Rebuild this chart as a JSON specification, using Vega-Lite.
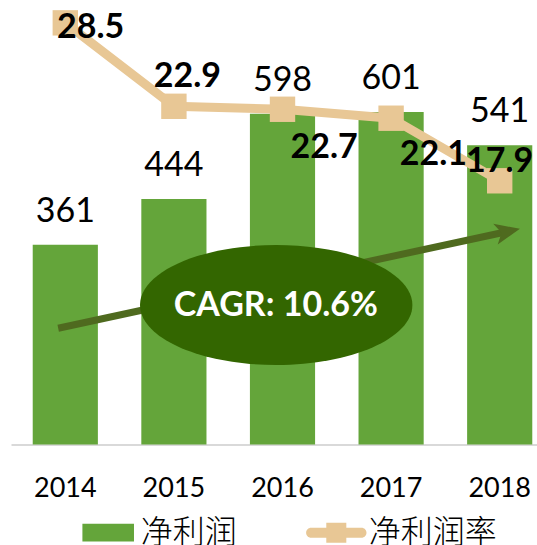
{
  "$schema": "https://vega.github.io/schema/vega-lite/v6.json",
  "width": 526,
  "height": 442.5,
  "autosize": {"type": "none"},
  "padding": {"left": 11, "top": 2, "right": 0, "bottom": 100.5},
  "background": "white",
  "config": {
    "view": {"stroke": null},
    "font": "Lato",
    "axisX": {
      "domainColor": "#D9D9D9",
      "domainWidth": 2,
      "ticks": false,
      "tickSize": 0,
      "grid": false,
      "labelFont": "Lato",
      "labelFontSize": 27,
      "labelColor": "#000000",
      "labelPadding": 51.5,
      "labelBaseline": "alphabetic",
      "labelAngle": 0
    }
  },
  "datasets": {
    "main": [
      {"year": "2014", "profit": 361, "rate": 28.5},
      {"year": "2015", "profit": 444, "rate": 22.9},
      {"year": "2016", "profit": 598, "rate": 22.7},
      {"year": "2017", "profit": 601, "rate": 22.1},
      {"year": "2018", "profit": 541, "rate": 17.9}
    ],
    "arrow": [{"year": "2014", "to": "2018", "start": 210.1, "end": 385.1}],
    "cagr": [{"year": "2016", "value": 252.2, "label": "CAGR: 10.6%"}]
  },
  "data": {"name": "main"},
  "encoding": {
    "x": {
      "field": "year",
      "type": "nominal",
      "title": null,
      "scale": {"range": [0, 543], "paddingInner": 0.4, "paddingOuter": 0.2}
    }
  },
  "layer": [
    {
      "layer": [
        {
          "mark": {"type": "bar"},
          "encoding": {
            "y": {"field": "profit", "type": "quantitative", "scale": {"domain": [0, 800], "nice": false}, "axis": null},
            "color": {
              "datum": "净利润",
              "scale": {"domain": ["净利润", "净利润率"], "range": ["#64A53A", "#E8C795"]},
              "legend": {
                "title": null,
                "orient": "none",
                "legendX": 66.2,
                "legendY": 499.7,
                "direction": "horizontal",
                "padding": 0,
                "symbolSize": 3844,
                "symbolStrokeWidth": 0,
                "symbolOpacity": 1,
                "labelFont": "Noto Sans CJK SC",
                "labelFontSize": 32,
                "labelFontWeight": 300,
                "labelColor": "#000000",
                "labelOffset": 1.5,
                "labelLimit": 400,
                "columnPadding": 68.1,
                "encode": {
                  "symbols": {
                    "update": {
                      "shape": {"signal": "datum.value === '净利润' ? 'M-0.832,-0.285H0.832V0.285H-0.832Z' : 'M-0.813,-0.161H0.813A0.161,0.161 0 0 1 0.813,0.161H-0.813A0.161,0.161 0 0 1 -0.813,-0.161ZM-0.323,-0.323H0.323V0.323H-0.323Z'"},
                      "strokeWidth": {"value": 0}
                    }
                  }
                }
              }
            }
          }
        },
        {
          "mark": {"type": "text", "font": "Lato", "fontSize": 34, "baseline": "alphabetic", "align": "center", "dy": -23, "color": "#000000"},
          "encoding": {
            "y": {"field": "profit", "type": "quantitative"},
            "text": {"field": "profit", "type": "quantitative"}
          }
        },
        {
          "data": {"name": "arrow"},
          "mark": {"type": "rule", "color": "#4F6A1F", "strokeWidth": 7, "xOffset": -7.1, "x2Offset": 8},
          "encoding": {
            "x2": {"field": "to"},
            "y": {"field": "start", "type": "quantitative"},
            "y2": {"field": "end"}
          }
        },
        {
          "data": {"name": "arrow"},
          "mark": {"type": "point", "shape": "M1,0L-1,-0.85L-0.5,0L-1,0.85Z", "filled": true, "opacity": 1, "size": 625, "angle": -12.14, "color": "#4F6A1F", "xOffset": 8},
          "encoding": {
            "x": {"field": "to", "type": "nominal", "title": null},
            "y": {"field": "end", "type": "quantitative"}
          }
        },
        {
          "data": {"name": "cagr"},
          "mark": {"type": "point", "shape": "M-1,0A1,0.4405 0 1 1 1,0A1,0.4405 0 1 1 -1,0Z", "filled": true, "opacity": 1, "size": 74202, "color": "#336600", "xOffset": -6.3},
          "encoding": {
            "y": {"field": "value", "type": "quantitative"}
          }
        },
        {
          "data": {"name": "cagr"},
          "mark": {"type": "text", "font": "Lato", "fontWeight": "bold", "fontSize": 34, "baseline": "alphabetic", "align": "center", "dx": -6.7, "dy": 11, "color": "#FFFFFF"},
          "encoding": {
            "y": {"field": "value", "type": "quantitative"},
            "text": {"field": "label"}
          }
        }
      ]
    },
    {
      "layer": [
        {
          "mark": {"type": "line", "color": "#E8C795", "strokeWidth": 9},
          "encoding": {
            "y": {"field": "rate", "type": "quantitative", "scale": {"domain": [0.2, 29.9], "nice": false, "zero": false}, "axis": null}
          }
        },
        {
          "mark": {"type": "point", "shape": "square", "filled": true, "opacity": 1, "size": 645, "color": "#E8C795"},
          "encoding": {
            "y": {"field": "rate", "type": "quantitative"}
          }
        },
        {
          "transform": [{"filter": "datum.year == '2014'"}],
          "mark": {"type": "text", "font": "Lato", "fontWeight": "bold", "fontSize": 34, "baseline": "alphabetic", "align": "center", "dx": 25.4, "dy": 14.8, "color": "#000000"},
          "encoding": {"y": {"field": "rate", "type": "quantitative"}, "text": {"field": "rate", "type": "quantitative", "format": ".1f"}}
        },
        {
          "transform": [{"filter": "datum.year == '2015'"}],
          "mark": {"type": "text", "font": "Lato", "fontWeight": "bold", "fontSize": 34, "baseline": "alphabetic", "align": "center", "dx": 13.5, "dy": -18.9, "color": "#000000"},
          "encoding": {"y": {"field": "rate", "type": "quantitative"}, "text": {"field": "rate", "type": "quantitative", "format": ".1f"}}
        },
        {
          "transform": [{"filter": "datum.year == '2016'"}],
          "mark": {"type": "text", "font": "Lato", "fontWeight": "bold", "fontSize": 34, "baseline": "alphabetic", "align": "center", "dx": 41.7, "dy": 49.1, "color": "#000000"},
          "encoding": {"y": {"field": "rate", "type": "quantitative"}, "text": {"field": "rate", "type": "quantitative", "format": ".1f"}}
        },
        {
          "transform": [{"filter": "datum.year == '2017'"}],
          "mark": {"type": "text", "font": "Lato", "fontWeight": "bold", "fontSize": 34, "baseline": "alphabetic", "align": "center", "dx": 42.3, "dy": 47.2, "color": "#000000"},
          "encoding": {"y": {"field": "rate", "type": "quantitative"}, "text": {"field": "rate", "type": "quantitative", "format": ".1f"}}
        },
        {
          "transform": [{"filter": "datum.year == '2018'"}],
          "mark": {"type": "text", "font": "Lato", "fontWeight": "bold", "fontSize": 34, "baseline": "alphabetic", "align": "center", "dx": 0, "dy": -9.1, "color": "#000000"},
          "encoding": {"y": {"field": "rate", "type": "quantitative"}, "text": {"field": "rate", "type": "quantitative", "format": ".1f"}}
        }
      ]
    }
  ],
  "resolve": {"scale": {"y": "independent"}}
}
